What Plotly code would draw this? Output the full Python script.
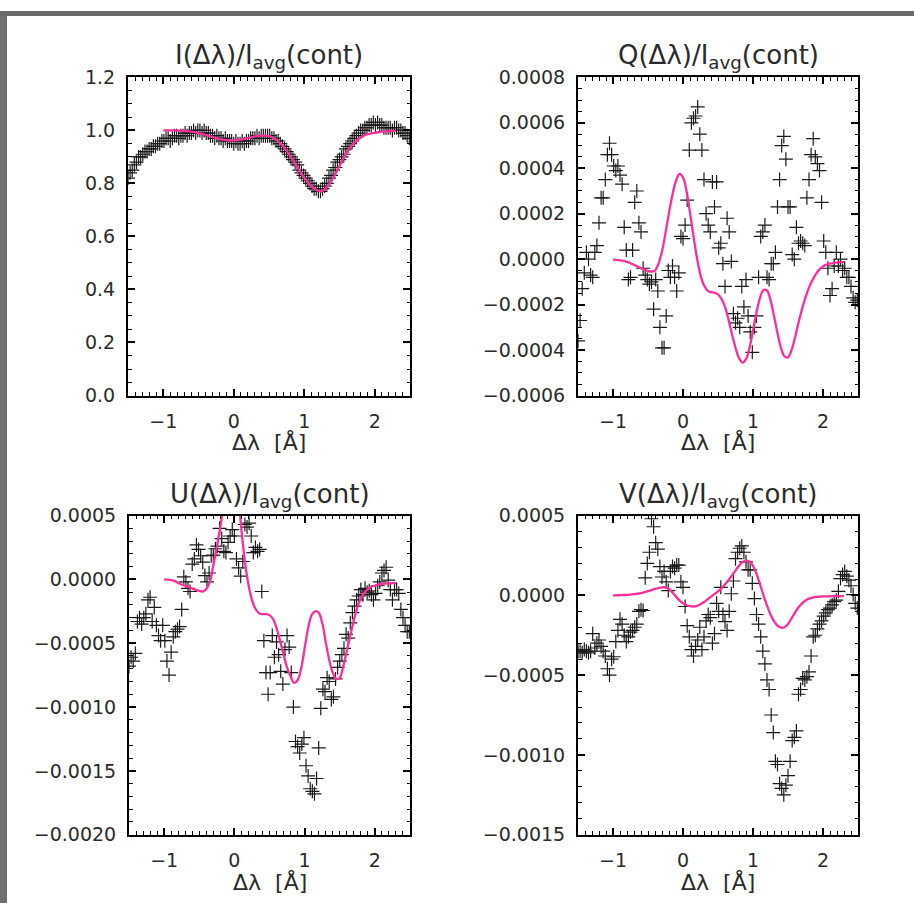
import plotly.graph_objects as go

# Observed wavelength offsets from line centre [Å]
WAVE = [
    -1.50, -1.47, -1.44, -1.41, -1.38, -1.35, -1.32, -1.29, -1.26, -1.23,
    -1.20, -1.17, -1.14, -1.11, -1.08, -1.05, -1.02, -0.99, -0.96, -0.93,
    -0.90, -0.87, -0.84, -0.81, -0.78, -0.75, -0.72, -0.69, -0.66, -0.63,
    -0.60, -0.57, -0.54, -0.51, -0.48, -0.45, -0.42, -0.39, -0.36, -0.33,
    -0.30, -0.27, -0.24, -0.21, -0.18, -0.15, -0.12, -0.09, -0.06, -0.03,
    0.00, 0.03, 0.06, 0.09, 0.12, 0.15, 0.18, 0.21, 0.24, 0.27,
    0.30, 0.33, 0.36, 0.39, 0.42, 0.45, 0.48, 0.51, 0.54, 0.57,
    0.60, 0.63, 0.66, 0.69, 0.72, 0.75, 0.78, 0.81, 0.84, 0.87,
    0.90, 0.93, 0.96, 0.99, 1.02, 1.05, 1.08, 1.11, 1.14, 1.17,
    1.20, 1.23, 1.26, 1.29, 1.32, 1.35, 1.38, 1.41, 1.44, 1.47,
    1.50, 1.53, 1.56, 1.59, 1.62, 1.65, 1.68, 1.71, 1.74, 1.77,
    1.80, 1.83, 1.86, 1.89, 1.92, 1.95, 1.98, 2.01, 2.04, 2.07,
    2.10, 2.13, 2.16, 2.19, 2.22, 2.25, 2.28, 2.31, 2.34, 2.37,
    2.40, 2.43, 2.46, 2.49,
]

# Observed Stokes I / I_avg(cont)
I_OBS = [
    0.82, 0.84, 0.85, 0.87, 0.88, 0.90, 0.90, 0.91, 0.92, 0.92,
    0.93, 0.93, 0.94, 0.94, 0.95, 0.95, 0.96, 0.96, 0.97, 0.97,
    0.96, 0.97, 0.98, 0.98, 0.97, 0.98, 0.98, 0.99, 0.98, 0.99,
    0.99, 1.00, 0.99, 1.00, 1.00, 0.99, 1.00, 0.99, 0.99, 0.98,
    0.98, 0.97, 0.98, 0.97, 0.97, 0.96, 0.97, 0.96, 0.96, 0.96,
    0.95, 0.96, 0.95, 0.95, 0.96, 0.95, 0.96, 0.96, 0.97, 0.97,
    0.97, 0.98, 0.97, 0.98, 0.98, 0.98, 0.98, 0.98, 0.97, 0.97,
    0.96, 0.96, 0.95, 0.94, 0.93, 0.92, 0.91, 0.90, 0.89, 0.88,
    0.87, 0.85, 0.84, 0.83, 0.82, 0.81, 0.80, 0.79, 0.78, 0.78,
    0.77, 0.77, 0.78, 0.79, 0.80, 0.82, 0.83, 0.85, 0.86, 0.88,
    0.89, 0.90, 0.91, 0.93, 0.94, 0.95, 0.96, 0.97, 0.98, 0.99,
    1.00, 1.00, 1.01, 1.01, 1.02, 1.02, 1.03, 1.02, 1.03, 1.02,
    1.02, 1.01, 1.01, 1.01, 1.01, 1.00, 1.01, 1.01, 1.00, 1.00,
    0.99, 0.99, 0.98, 0.97,
]

# Observed Stokes Q, U, V / I_avg(cont), in units of 1e-4
Q_OBS_E4 = [
    -3.6, -2.7, -1.3, -0.6, 0.3, 0.0, -0.7, -0.8, 0.3, 0.6,
    1.6, 2.7, 2.7, 3.5, 4.6, 5.1, 4.6, 4.1, 3.9, 4.1,
    3.7, 3.3, 1.4, 0.4, -0.9, -0.8, 0.4, 2.5, 3.0, 1.6,
    1.2, -0.4, -0.7, -0.9, -1.1, -1.0, -2.2, -0.9, -1.4, -3.0,
    -3.9, -3.9, -2.5, -0.5, -0.8, -0.3, -0.8, -1.4, -0.6, 1.0,
    0.9, 1.5, 2.6, 4.8, 6.0, 6.2, 6.3, 6.7, 5.5, 4.8,
    3.5, 2.0, 1.5, 1.2, 3.4, 2.3, 3.4, 0.5, 0.7, -0.2,
    -1.2, 1.8, 1.2, -0.1, -2.4, -2.8, -2.6, -3.0, -1.2, -2.1,
    -0.9, -2.5, -3.2, -4.1, -3.0, -2.5, -0.8, 1.0, 1.2, 1.5,
    -0.8, -0.9, -0.2, -0.2, 0.3, 2.3, 3.5, 5.0, 5.4, 4.4,
    2.3, 2.3, 0.2, 0.0, 1.4, 0.7, 0.8, 0.7, 0.6, 2.7,
    3.5, 4.6, 5.3, 4.5, 4.2, 3.9, 2.5, 0.8, 0.3, -0.4,
    -1.6, -1.3, -0.3, 0.3, -0.3, 0.0, -0.5, -0.4, -0.8, -0.8,
    -1.2, -1.7, -1.9, -1.8,
]

U_OBS_E4 = [
    -6.8, -6.1, -6.4, -5.8, -3.3, -3.0, -3.5, -3.0, -2.7, -1.6,
    -1.4, -3.3, -2.2, -3.6, -4.4, -4.8, -3.6, -4.8, -6.4, -7.5,
    -5.7, -4.5, -4.1, -3.9, -3.7, -2.35, 0.2, -0.2, -0.7, -0.95,
    1.2, 1.6, 2.7, 2.35, 1.85, 1.35, 0.3, -0.2, 0.5, 1.85,
    1.9, 2.4, 2.6, 4.0, 3.2, 2.2, 2.1, 2.9, 3.4, 3.9,
    3.4, 1.6, 0.9, 0.25, 1.4, 4.3, 4.1, 4.4, 3.4, 2.1,
    2.5, 2.2, 2.35, -0.95, -4.8, -7.3, -9.0, -7.3, -4.4, -6.1,
    -4.9, -5.9, -7.2, -8.2, -5.5, -4.4, -5.3, -7.3, -10.0, -12.7,
    -13.1, -13.6, -12.9, -12.4, -14.6, -15.4, -16.4, -16.6, -16.8, -15.6,
    -13.2, -10.1, -8.6, -8.8, -7.7, -8.0, -9.4, -9.2, -7.8, -6.9,
    -6.4, -5.9, -5.4, -4.3, -4.6, -3.4, -2.6, -2.1, -1.6, -1.3,
    -0.8, -1.2, -0.7, -1.0, -0.9, -1.2, -1.6, -1.1, -0.5, -0.2,
    0.5, 0.7, 0.95, -0.06, -0.8, -1.6, -0.8, -0.8, -1.1, -2.35,
    -3.0, -3.6, -4.1, -4.1,
]

V_OBS_E4 = [
    -3.5, -3.5, -3.6, -3.4, -3.5, -3.6, -3.5, -2.4, -3.3, -3.0,
    -2.8, -3.2, -3.5, -3.8, -4.6, -5.0, -4.0, -3.85, -2.9, -2.2,
    -1.5, -1.8, -2.5, -2.9, -2.6, -2.3, -2.2, -2.0, -1.8, -1.0,
    -0.9, -0.95, 1.1, 2.0, 2.7, 4.8, 4.3, 3.3, 2.9, 1.8,
    1.15, 1.5, 0.85, 0.3, 1.5, 1.8, 1.7, 1.9, 1.9, 0.85,
    0.5, -0.7, -1.9, -2.6, -3.4, -3.8, -3.2, -2.8, -2.0, -3.4,
    -2.6, -1.6, -1.2, -1.4, -3.0, -2.4, -0.5, -1.0, 0.5, -1.2,
    -1.65, -2.2, -1.0, 0.1, 0.9, 2.3, 2.7, 2.95, 3.1, 2.7,
    2.1, 1.6, 1.6, 0.75, -0.2, -1.2, -1.8, -2.6, -3.5, -4.3,
    -5.3, -5.9, -7.5, -8.6, -10.4, -10.6, -11.8, -12.1, -12.5, -11.9,
    -11.3, -10.4, -9.1, -8.9, -8.5, -6.2, -5.9, -5.2, -5.3, -5.1,
    -4.8, -3.8, -2.6, -2.5, -2.1, -1.8, -1.6, -1.3, -1.1, -0.9,
    -0.8, -0.6, -0.4, -0.3, 0.25, 1.05, 1.3, 1.5, 1.2, 0.95,
    0.6, 0.05, -0.5, -0.8,
]

# Synthetic (inverted) profiles on the model wavelength grid [Å]
WAVE_FIT = [
    -1.00, -0.95, -0.90, -0.85, -0.80, -0.75, -0.70, -0.65, -0.60, -0.55,
    -0.50, -0.45, -0.40, -0.35, -0.30, -0.25, -0.20, -0.15, -0.10, -0.05,
    0.00, 0.05, 0.10, 0.15, 0.20, 0.25, 0.30, 0.35, 0.40, 0.45,
    0.50, 0.55, 0.60, 0.65, 0.70, 0.75, 0.80, 0.85, 0.90, 0.95,
    1.00, 1.05, 1.10, 1.15, 1.20, 1.25, 1.30, 1.35, 1.40, 1.45,
    1.50, 1.55, 1.60, 1.65, 1.70, 1.75, 1.80, 1.85, 1.90, 1.95,
    2.00, 2.05, 2.10, 2.15, 2.20, 2.25, 2.30,
]

I_FIT = [
    1.000, 1.000, 1.000, 1.000, 0.999, 0.999, 0.998, 0.997, 0.995, 0.993,
    0.990, 0.987, 0.983, 0.979, 0.975, 0.971, 0.968, 0.965, 0.963, 0.962,
    0.962, 0.963, 0.965, 0.968, 0.971, 0.974, 0.977, 0.979, 0.980, 0.980,
    0.978, 0.973, 0.965, 0.954, 0.940, 0.923, 0.904, 0.883, 0.862, 0.841,
    0.822, 0.805, 0.790, 0.779, 0.772, 0.771, 0.780, 0.795, 0.815, 0.840,
    0.866, 0.892, 0.915, 0.935, 0.951, 0.964, 0.974, 0.981, 0.986, 0.989,
    0.991, 0.993, 0.995, 0.996, 0.997, 0.998, 0.998,
]

Q_FIT_E4 = [
    -0.02, -0.03, -0.05, -0.08, -0.12, -0.18, -0.25, -0.32, -0.40, -0.46,
    -0.52, -0.55, -0.50, -0.20, 0.35, 1.15, 2.05, 2.85, 3.45, 3.75,
    3.60, 3.00, 2.05, 1.00, 0.05, -0.70, -1.15, -1.38, -1.45, -1.47,
    -1.55, -1.75, -2.10, -2.65, -3.30, -3.90, -4.35, -4.55, -4.40, -3.90,
    -3.15, -2.35, -1.70, -1.36, -1.38, -1.80, -2.50, -3.25, -3.90, -4.28,
    -4.32, -4.00, -3.45, -2.80, -2.20, -1.68, -1.25, -0.92, -0.65, -0.45,
    -0.32, -0.24, -0.20, -0.17, -0.15, -0.13, -0.12,
]

U_FIT_E4 = [
    0.00, -0.02, -0.05, -0.12, -0.28, -0.40, -0.50, -0.60, -0.72, -0.82,
    -0.90, -0.95, -0.75, -0.20, 1.10, 2.50, 4.10, 5.90, 7.40, 8.30,
    8.20, 6.80, 3.90, 1.40, -0.40, -1.60, -2.30, -2.65, -2.72, -2.72,
    -2.80, -3.10, -3.80, -4.80, -5.90, -6.90, -7.60, -8.10, -7.90, -7.00,
    -5.40, -3.80, -2.80, -2.50, -2.60, -3.40, -4.90, -6.30, -7.30, -7.80,
    -7.70, -6.80, -5.60, -4.40, -3.20, -2.20, -1.50, -1.05, -0.75, -0.58,
    -0.48, -0.40, -0.36, -0.33, -0.31, -0.30, -0.30,
]

V_FIT_E4 = [
    0.00, 0.00, 0.01, 0.02, 0.03, 0.05, 0.07, 0.10, 0.14, 0.20,
    0.26, 0.33, 0.40, 0.46, 0.50, 0.50, 0.40, 0.18, -0.08, -0.32,
    -0.50, -0.62, -0.68, -0.70, -0.66, -0.56, -0.42, -0.25, -0.08, 0.08,
    0.25, 0.45, 0.68, 0.95, 1.25, 1.55, 1.85, 2.08, 2.18, 2.12,
    1.85, 1.35, 0.70, 0.00, -0.65, -1.20, -1.62, -1.90, -2.03, -2.00,
    -1.80, -1.45, -1.08, -0.75, -0.50, -0.32, -0.21, -0.14, -0.10, -0.08,
    -0.07, -0.06, -0.06, -0.05, -0.05, -0.05, -0.05,
]

PANEL_TITLES = [
    "I(Δλ)/I<sub>avg</sub>(cont)",
    "Q(Δλ)/I<sub>avg</sub>(cont)",
    "U(Δλ)/I<sub>avg</sub>(cont)",
    "V(Δλ)/I<sub>avg</sub>(cont)",
]
X_LABEL = "Δλ  [Å]"

E4 = 1e-4
panels = [
    dict(obs=I_OBS, fit=I_FIT, yrange=[0, 1.2], dtick=0.2, minor=0.05, fmt=".1f"),
    dict(obs=[v * E4 for v in Q_OBS_E4], fit=[v * E4 for v in Q_FIT_E4],
         yrange=[-0.0006, 0.0008], dtick=0.0002, minor=0.00005, fmt=".4f"),
    dict(obs=[v * E4 for v in U_OBS_E4], fit=[v * E4 for v in U_FIT_E4],
         yrange=[-0.0020, 0.0005], dtick=0.0005, minor=0.0001, fmt=".4f"),
    dict(obs=[v * E4 for v in V_OBS_E4], fit=[v * E4 for v in V_FIT_E4],
         yrange=[-0.0015, 0.0005], dtick=0.0005, minor=0.0001, fmt=".4f"),
]

W = H = 914
# plot boxes in pixels: (left, right, top, bottom)
boxes = [(128, 410, 68, 394), (578, 858, 68, 394),
         (129, 410, 517, 844), (578, 858, 517, 844)]

FONT = "DejaVu Sans"
TXT = "#2b2b2b"
PINK = "#ff2e9a"

fig = go.Figure()
layout = dict(
    width=W, height=H, margin=dict(l=0, r=0, t=0, b=0),
    paper_bgcolor="white", plot_bgcolor="white", showlegend=False,
    font=dict(family=FONT, color=TXT, size=19),
    annotations=[], shapes=[],
)

for k, (p, box) in enumerate(zip(panels, boxes)):
    n = "" if k == 0 else str(k + 1)
    xa, ya = "x" + n, "y" + n
    left, right, top, bottom = box
    fig.add_trace(go.Scatter(
        x=WAVE, y=p["obs"], xaxis=xa, yaxis=ya, mode="markers",
        marker=dict(symbol="cross-thin", size=10, color="#1a1a1a",
                    line=dict(width=1.2, color="#1a1a1a")),
    ))
    fig.add_trace(go.Scatter(
        x=WAVE_FIT, y=p["fit"], xaxis=xa, yaxis=ya, mode="lines",
        line=dict(color=PINK, width=2.3, shape="spline"),
    ))
    common = dict(showline=True, linecolor="black", linewidth=2, mirror="allticks",
                  ticks="inside", ticklen=7, tickwidth=1.5, tickcolor="black",
                  showgrid=False, zeroline=False,
                  tickfont=dict(family=FONT, size=19, color=TXT))
    layout["xaxis" + n] = dict(
        common, domain=[left / W, right / W], anchor=ya, range=[-1.5, 2.5],
        tick0=0, dtick=1, ticklabelstandoff=8,
        minor=dict(dtick=0.1, tick0=0, ticks="inside", ticklen=3.5,
                   tickwidth=1, tickcolor="black", showgrid=False),
    )
    layout["yaxis" + n] = dict(
        common, domain=[1 - bottom / H, 1 - top / H], anchor=xa, range=p["yrange"],
        tick0=0, dtick=p["dtick"], tickformat=p["fmt"], ticklabelstandoff=7,
        minor=dict(dtick=p["minor"], tick0=0, ticks="inside", ticklen=3.5,
                   tickwidth=1, tickcolor="black", showgrid=False),
    )
    cx = (left + right) / 2 / W
    layout["annotations"].append(dict(
        text=PANEL_TITLES[k], x=cx, y=1 - (top - 21) / H, xref="paper", yref="paper",
        xanchor="center", yanchor="middle", showarrow=False,
        font=dict(family=FONT, size=26, color=TXT),
    ))
    layout["annotations"].append(dict(
        text=X_LABEL, x=cx, y=1 - (bottom + 48) / H, xref="paper", yref="paper",
        xanchor="center", yanchor="middle", showarrow=False,
        font=dict(family=FONT, size=22, color=TXT),
    ))

# dark frame along the top and left edges of the page
layout["shapes"] += [
    dict(type="rect", xref="paper", yref="paper", x0=0, x1=7 / W, y0=0, y1=1,
         fillcolor="#707070", line=dict(width=0), layer="above"),
    dict(type="rect", xref="paper", yref="paper", x0=0, x1=1, y0=1 - 5 / H, y1=1,
         fillcolor="#6a6a6a", line=dict(width=0), layer="above"),
]

fig.update_layout(**layout)
fig.write_html("out.html")
